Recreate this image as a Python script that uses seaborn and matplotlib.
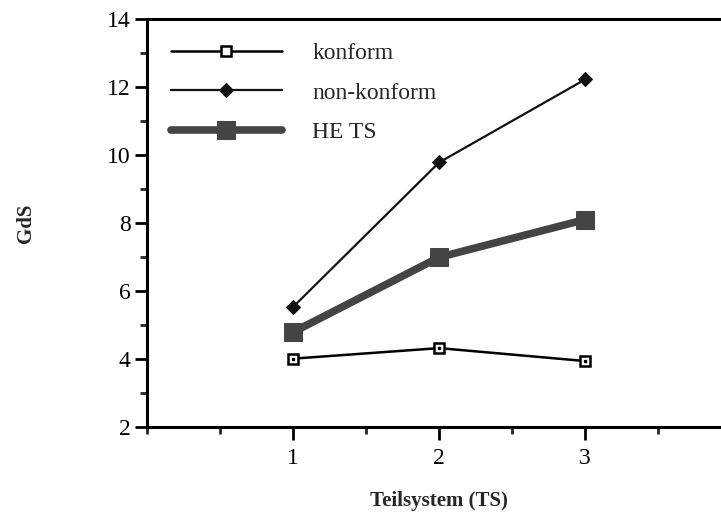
import matplotlib
matplotlib.use("Agg")
import matplotlib.pyplot as plt
import seaborn as sns
from matplotlib.ticker import MultipleLocator

teilsystem = [1, 2, 3]
konform = [4.01, 4.32, 3.94]
non_konform = [5.53, 9.78, 12.22]
he_ts = [4.79, 6.99, 8.10]

sns.set_style("ticks")
plt.rcParams['font.family'] = ['Liberation Serif', 'DejaVu Serif']

fig = plt.figure(figsize=(7.21, 5.12), dpi=100)
ax = fig.add_axes([0.204, 0.166, 0.81, 0.797])

sns.lineplot(x=teilsystem, y=konform, ax=ax, color='black', linewidth=1.8,
             marker='s', markersize=7, markerfacecolor='white',
             markeredgecolor='black', markeredgewidth=1.8, label='konform')
sns.lineplot(x=teilsystem, y=non_konform, ax=ax, color='#111111', linewidth=1.6,
             marker='D', markersize=7, markeredgecolor='#111111',
             label='non-konform')
sns.lineplot(x=teilsystem, y=he_ts, ax=ax, color='#444444', linewidth=5.5,
             marker='s', markersize=13, markeredgecolor='#444444',
             label='HE TS')
# little dot inside the open squares
ax.plot(teilsystem, konform, linestyle='none', marker='s', markersize=1.5,
        color='black')

ax.set_xlim(0, 4)
ax.set_ylim(2, 14)
ax.xaxis.set_major_locator(MultipleLocator(1))
ax.xaxis.set_minor_locator(MultipleLocator(0.5))
ax.yaxis.set_major_locator(MultipleLocator(2))
ax.yaxis.set_minor_locator(MultipleLocator(1))
ax.set_xticks([1, 2, 3])
ax.set_xticklabels(['1', '2', '3'])

ax.tick_params(which='major', direction='out', length=9, width=2,
               labelsize=17, colors='black', pad=6)
ax.tick_params(axis='y', which='major', pad=3)
ax.tick_params(which='minor', direction='out', length=5, width=2)

for side in ['left', 'bottom', 'top']:
    ax.spines[side].set_linewidth(2.2)
    ax.spines[side].set_color('black')
ax.spines['right'].set_visible(False)

ax.set_xlabel('Teilsystem (TS)', fontsize=15, fontweight='bold', labelpad=16)
ax.set_ylabel('GdS', fontsize=15, fontweight='bold', labelpad=51)

ax.legend(loc='upper left', frameon=False, fontsize=17, handlelength=4.7,
          handletextpad=1.3, labelspacing=0.76, borderaxespad=0.3,
          borderpad=0.7, bbox_to_anchor=(0.0, 1.0))

fig.savefig('out.png', dpi=100)
